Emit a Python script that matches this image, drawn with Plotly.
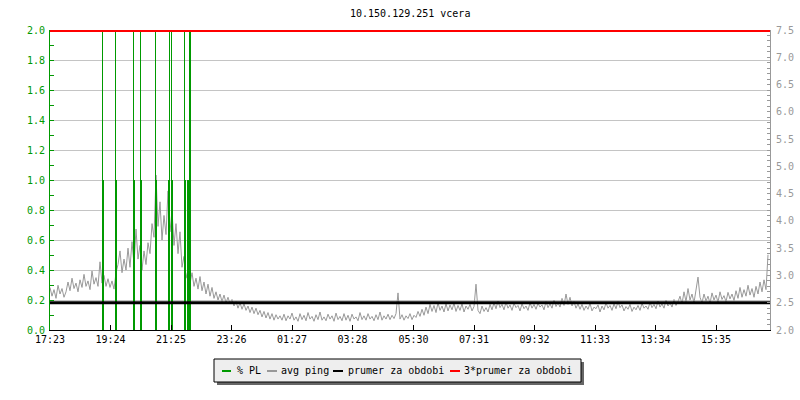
import plotly.graph_objects as go

TITLE = "10.150.129.251 vcera"

# x axis: minutes since 17:23 (24 h window)
tick_minutes = [0, 121, 242, 363, 484, 605, 727, 848, 969, 1090, 1211, 1332]
tick_labels = ["17:23", "19:24", "21:25", "23:26", "01:27", "03:28",
               "05:30", "07:31", "09:32", "11:33", "13:34", "15:35"]

# avg ping [ms], one sample every 4 minutes
ping_step = 4
avg_ping = [
    2.78, 2.62, 2.74, 2.58, 2.82, 2.66, 2.76, 2.60, 2.70, 2.88, 2.72, 2.95, 2.76, 2.86, 2.70,
    2.92, 2.78, 3.02, 2.80, 2.90, 2.74, 3.08, 2.84, 2.96, 2.80,
    3.25, 2.86, 3.00, 2.80, 2.94, 2.78, 2.90, 2.75, 3.05, 3.20,
    3.45, 3.05, 3.30, 3.10, 3.50, 3.15, 3.62, 3.20, 3.85, 3.30, 3.55, 3.10, 3.45, 3.20, 3.60,
    3.40, 3.95, 3.70, 4.84, 3.90, 4.35, 3.65, 4.10, 3.75, 4.55, 3.80, 4.20, 3.55, 3.95, 3.40, 3.80,
    3.15, 3.35, 2.95, 3.10, 2.85, 3.05, 2.80, 2.95, 2.75, 2.98,
    2.72, 2.88, 2.66, 2.84, 2.62, 2.78, 2.58, 2.70, 2.55, 2.66, 2.52, 2.64, 2.50, 2.60, 2.48,
    2.56, 2.44, 2.52, 2.40, 2.50, 2.38, 2.48, 2.36, 2.44, 2.32, 2.42, 2.30, 2.40, 2.28, 2.36,
    2.24, 2.34, 2.22, 2.32, 2.20, 2.30, 2.18, 2.28, 2.20, 2.26,
    2.18, 2.29, 2.17, 2.26, 2.20, 2.31, 2.18, 2.24, 2.16, 2.30, 2.19, 2.27, 2.17, 2.32, 2.20,
    2.25, 2.16, 2.28, 2.19, 2.33, 2.18, 2.24, 2.17, 2.29, 2.20, 2.26, 2.16, 2.31, 2.19, 2.25,
    2.17, 2.30, 2.18, 2.27, 2.16, 2.29, 2.20, 2.24, 2.17, 2.32, 2.19, 2.26, 2.18, 2.30, 2.20,
    2.25, 2.17, 2.28, 2.19, 2.33, 2.18, 2.26, 2.20, 2.29, 2.19, 2.27, 2.21, 2.30,
    2.68,
    2.20, 2.28, 2.18, 2.26, 2.21, 2.30, 2.19, 2.27, 2.23, 2.34, 2.25, 2.38, 2.27, 2.42, 2.30,
    2.47, 2.34, 2.45, 2.32, 2.50, 2.36, 2.44, 2.33, 2.48, 2.35, 2.46, 2.37, 2.49, 2.34, 2.45,
    2.36, 2.48, 2.33, 2.44, 2.38, 2.47, 2.35, 2.43,
    2.84,
    2.36, 2.30, 2.44, 2.34, 2.41, 2.33, 2.47, 2.37, 2.50, 2.39, 2.53, 2.41, 2.47, 2.37, 2.51,
    2.40, 2.46, 2.36, 2.49, 2.41, 2.45, 2.35, 2.48, 2.39, 2.44, 2.36, 2.50, 2.40, 2.47, 2.38,
    2.49, 2.42, 2.46, 2.37, 2.52, 2.41, 2.48, 2.40, 2.55, 2.43, 2.50, 2.42,
    2.58, 2.45, 2.66, 2.47, 2.60, 2.44, 2.52, 2.40, 2.48, 2.38,
    2.47, 2.36, 2.44, 2.38, 2.49, 2.35, 2.42, 2.39, 2.46, 2.33, 2.44, 2.37, 2.50, 2.40, 2.45,
    2.36, 2.48, 2.39, 2.52, 2.41, 2.46, 2.35, 2.43, 2.38, 2.47, 2.34, 2.42, 2.37, 2.45, 2.36,
    2.49, 2.40, 2.44, 2.38, 2.51, 2.41, 2.47, 2.39, 2.53, 2.42, 2.48, 2.40, 2.55, 2.44, 2.50,
    2.42, 2.56, 2.45, 2.52,
    2.62, 2.48, 2.70, 2.52, 2.76, 2.55, 2.66, 2.50, 2.72, 2.97,
    2.60, 2.50, 2.66, 2.53, 2.62, 2.49, 2.68, 2.55, 2.64, 2.51,
    2.70, 2.56, 2.63, 2.52, 2.69, 2.57, 2.66, 2.54, 2.72, 2.58,
    2.78, 2.60, 2.74, 2.62, 2.82, 2.64, 2.76, 2.60, 2.80, 2.66, 2.88, 2.70, 2.92, 2.74, 3.38,
]
ping_minutes = [i * ping_step for i in range(len(avg_ping))]

# packet loss [%] samples (2-minute resolution)
pl_minutes = [105, 107, 131, 133, 167, 169, 181, 183, 211, 213,
              237, 239, 243, 245, 269, 271, 275, 277, 279, 281]
pl_values = [2.0, 1.0, 2.0, 1.0, 2.0, 1.0, 2.0, 1.0, 2.0, 1.0,
             1.0, 2.0, 2.0, 1.0, 2.0, 1.0, 1.0, 1.0, 2.0, 2.0]

avg_period = 2.5           # prumer za obdobi
avg_period_3x = 3 * avg_period

legend_names = ["% PL", "avg ping", "prumer za obdobi", "3*prumer za obdobi"]

GREEN = "#009900"
GRAY = "#999999"
GRID = "#c4c4c4"
FONT = "DejaVu Sans Mono"

x_end = 1440

fig = go.Figure()

fig.add_trace(go.Scatter(x=ping_minutes, y=avg_ping, mode="lines",
                         line=dict(color=GRAY, width=1), yaxis="y",
                         name=legend_names[1], showlegend=False))
fig.add_trace(go.Bar(x=pl_minutes, y=pl_values, width=[2] * len(pl_minutes),
                     marker=dict(color=GREEN, line=dict(width=0)),
                     yaxis="y2", name=legend_names[0], showlegend=False))
fig.add_trace(go.Scatter(x=[0, x_end], y=[avg_period, avg_period], mode="lines",
                         line=dict(color="black", width=3), yaxis="y3",
                         name=legend_names[2], showlegend=False))
fig.add_trace(go.Scatter(x=[0, x_end], y=[avg_period_3x, avg_period_3x], mode="lines",
                         line=dict(color="#ff0000", width=4), yaxis="y3",
                         name=legend_names[3], showlegend=False))

fig.update_layout(
    width=800, height=400,
    margin=dict(l=50, r=30, t=30, b=70, autoexpand=False),
    paper_bgcolor="white", plot_bgcolor="white",
    font=dict(family=FONT, size=10, color="black"),
    bargap=0,
    xaxis=dict(range=[0, x_end], tickvals=tick_minutes, ticktext=tick_labels,
               ticks="inside", ticklen=5, tickcolor="black", showgrid=False,
               showline=True, linecolor="black", linewidth=1, zeroline=False,
               automargin=False,
               tickfont=dict(family=FONT, size=10, color="black")),
    yaxis=dict(range=[2, 7.5], side="right", dtick=0.5, tick0=2, tickformat=".1f",
               ticks="inside", ticklen=3, tickcolor=GRAY, showgrid=False,
               showline=True, linecolor=GRAY, zeroline=False, automargin=False,
               ticklabelstandoff=3,
               tickfont=dict(family=FONT, size=10, color=GRAY),
               minor=dict(dtick=0.1, ticks="inside", ticklen=3, tickcolor=GRAY,
                          showgrid=False)),
    yaxis2=dict(range=[0, 2], side="left", overlaying="y", dtick=0.2, tick0=0,
                tickformat=".1f", ticks="inside", ticklen=4, tickcolor=GREEN,
                showgrid=True, gridcolor=GRID, gridwidth=1, automargin=False,
                showline=True, linecolor=GREEN, zeroline=False,
                ticklabelstandoff=2,
                tickfont=dict(family=FONT, size=10, color=GREEN),
                minor=dict(dtick=0.1, ticks="inside", ticklen=4, tickcolor=GREEN,
                           showgrid=False)),
    yaxis3=dict(range=[2, 7.5], overlaying="y", visible=False),
)

def px_x(p):
    return (p - 50) / 720

def px_y(p):
    return (330 - p) / 300

fig.add_annotation(text=TITLE, xref="paper", yref="paper", x=0.5, y=px_y(13),
                   xanchor="center", yanchor="middle", showarrow=False, borderpad=0,
                   font=dict(family=FONT, size=10, color="black"))

# custom legend box (rrdtool style) below the plot
shapes = [
    dict(type="rect", xref="paper", yref="paper", x0=px_x(217), x1=px_x(584),
         y0=px_y(362), y1=px_y(385), fillcolor="#666666", line=dict(width=0)),
    dict(type="rect", xref="paper", yref="paper", x0=px_x(214), x1=px_x(581),
         y0=px_y(359), y1=px_y(382), fillcolor="#eeeeee",
         line=dict(color="black", width=1)),
]
swatch_colors = [GREEN, GRAY, "black", "#ff0000"]
swatch_x = [(222, 231), (267, 277), (333, 343), (450, 460)]
text_x = [236, 280, 347, 463]
for (a, b), c in zip(swatch_x, swatch_colors):
    shapes.append(dict(type="line", xref="paper", yref="paper", x0=px_x(a), x1=px_x(b),
                       y0=px_y(371), y1=px_y(371), line=dict(color=c, width=2)))
fig.update_layout(shapes=shapes)
for name, tx in zip(legend_names, text_x):
    fig.add_annotation(text=name, xref="paper", yref="paper", x=px_x(tx), y=px_y(370),
                       xanchor="left", yanchor="middle", showarrow=False,
                       borderpad=0, font=dict(family=FONT, size=10, color="black"))

fig.write_html("out.html", config={"displayModeBar": False},
               post_script="document.body.style.margin='0';")
